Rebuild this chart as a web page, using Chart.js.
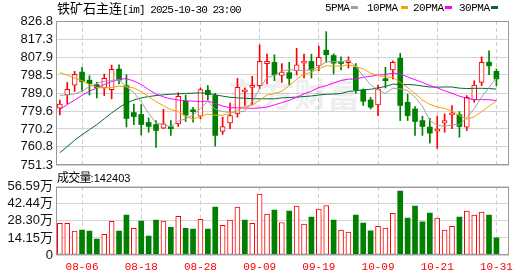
<!DOCTYPE html>
<html>
<head>
<meta charset="utf-8">
<script src="https://cdn.jsdelivr.net/npm/chart.js@4.4.1/dist/chart.umd.min.js"></script>
<style>
body{margin:0;background:#fff;width:530px;height:276px;overflow:hidden;position:relative;}
canvas{position:absolute;left:0;}
#pc{top:0;}
#vc{top:176px;}
.t{position:absolute;white-space:nowrap;color:#000;line-height:16px;}
.cjk{font-family:"Noto Sans CJK SC",sans-serif;}
.mono{font-family:"Liberation Mono",monospace;font-size:11px;}
.sw{position:absolute;top:6px;width:7px;height:3px;}
</style>
</head>
<body>
<canvas id="pc" width="530" height="176"></canvas>
<canvas id="vc" width="530" height="100"></canvas>

<div class="t" style="left:57px;top:0;"><span class="cjk" style="font-size:13px;">铁矿石主连</span><span class="mono" style="letter-spacing:-0.95px;">[im] 2025-10-30 23:00</span></div>

<div class="t mono" style="left:325px;top:0;letter-spacing:-0.5px;">5PMA</div><div class="sw" style="left:351px;background:#a0a0a0;"></div>
<div class="t mono" style="left:367px;top:0;letter-spacing:-0.5px;">10PMA</div><div class="sw" style="left:401px;background:#f5a300;"></div>
<div class="t mono" style="left:413px;top:0;letter-spacing:-0.5px;">20PMA</div><div class="sw" style="left:445px;background:#ff00ff;"></div>
<div class="t mono" style="left:459px;top:0;letter-spacing:-0.5px;">30PMA</div><div class="sw" style="left:491px;background:#006a30;"></div>

<div class="t" style="left:57px;top:169px;"><span class="cjk" style="font-size:12px;letter-spacing:-0.8px;">成交量</span><span style="font-family:'Liberation Sans',sans-serif;font-size:11px;">:142403</span></div>

<script>
// 日期 (交易日)
var dates = ['08-01','08-04','08-05','08-06','08-07','08-08','08-11','08-12','08-13','08-14',
             '08-15','08-18','08-19','08-20','08-21','08-22','08-25','08-26','08-27','08-28',
             '08-29','09-01','09-02','09-03','09-04','09-05','09-08','09-09','09-10','09-11',
             '09-12','09-15','09-16','09-17','09-18','09-19','09-22','09-23','09-24','09-25',
             '09-26','09-29','09-30','10-09','10-10','10-13','10-14','10-15','10-16','10-17',
             '10-20','10-21','10-22','10-23','10-24','10-27','10-28','10-29','10-30','10-31'];

var openP  = [781.1,788.0,793.1,800.0,795.8,793.4,791.7,790.8,801.6,792.9,
              778.8,777.8,773.6,772.5,770.6,771.2,772.9,784.7,779.7,776.9,
              790.5,787.7,768.9,773.4,778.1,789.6,792.0,792.9,804.4,805.1,
              798.3,799.7,800.7,804.7,805.6,803.3,811.5,808.7,805.1,804.9,
              802.5,790.6,785.4,782.8,795.8,801.2,807.3,784.2,780.7,774.6,
              771.2,769.1,773.2,777.6,777.6,771.2,785.6,794.6,805.2,800.4];
var highP  = [785.4,794.6,800.4,802.5,798.1,794.6,799.0,803.7,803.8,798.6,
              783.3,783.0,776.0,774.6,780.5,774.6,789.2,788.0,781.6,791.7,
              792.9,788.9,776.4,783.7,796.7,791.7,797.8,814.3,809.4,809.1,
              804.5,805.1,812.5,809.4,809.4,813.6,821.2,809.6,808.0,808.0,
              804.5,791.2,786.8,793.2,802.5,805.9,809.8,788.5,781.9,776.9,
              775.8,776.8,778.1,782.5,779.3,787.7,795.5,808.0,811.1,801.6];
var lowP   = [777.6,783.3,789.9,789.9,788.0,786.5,787.7,786.0,793.8,771.2,
              772.5,767.0,768.5,760.5,770.3,766.8,771.5,774.1,773.8,775.5,
              785.4,761.2,767.3,770.3,776.4,782.5,783.0,791.2,793.8,795.5,
              794.6,793.4,798.5,796.9,796.9,800.7,805.1,799.0,801.1,802.1,
              788.9,782.5,780.7,777.2,791.7,796.4,774.6,774.6,766.8,766.8,
              762.8,760.0,768.5,770.3,765.9,769.4,784.2,792.9,798.6,792.9];
var closeP = [783.3,791.0,798.8,795.0,793.9,791.7,796.7,801.4,795.8,775.7,
              776.7,772.5,771.5,769.4,772.9,770.3,787.3,777.4,779.2,790.8,
              788.2,766.8,771.5,777.2,792.0,789.9,792.5,805.6,805.6,798.6,
              800.0,796.7,803.8,805.1,801.1,807.7,809.1,804.7,804.5,805.4,
              790.8,784.7,781.6,791.2,795.5,805.1,782.5,777.2,774.1,771.5,
              768.0,769.8,774.6,778.1,771.5,786.8,793.2,805.1,803.3,796.4];

var ma5  = [787.8,788.0,788.6,790.0,792.4,794.1,795.2,795.7,795.9,792.3,
            789.3,784.4,778.4,773.2,772.6,771.3,774.3,775.5,777.4,781.0,
            784.6,780.5,779.3,778.9,779.1,779.5,784.6,791.4,797.1,798.4,
            800.5,801.3,800.9,800.8,801.3,802.9,805.4,805.5,805.4,806.3,
            802.9,798.0,793.4,790.7,788.8,791.6,791.2,790.3,786.9,782.1,
            774.7,772.1,771.6,772.4,772.4,776.2,780.8,786.9,792.0,797.0];
var ma10 = [799.8,798.4,796.9,795.5,793.5,792.0,791.7,792.0,792.6,792.3,
            791.7,789.8,787.1,784.5,782.4,780.3,779.4,777.0,775.3,776.8,
            778.0,777.4,777.4,778.2,780.1,782.0,782.6,785.4,788.0,788.8,
            790.0,793.0,796.2,799.0,799.9,801.7,803.3,803.2,803.1,803.8,
            802.9,801.7,799.5,798.1,797.5,797.3,794.6,791.9,788.8,785.4,
            783.1,781.7,781.0,779.6,777.2,775.4,776.5,779.3,782.2,784.7];
var ma20 = [780.4,783.0,785.3,787.8,790.0,791.6,793.5,795.0,796.2,796.6,
            795.3,793.5,790.8,788.5,787.0,786.0,785.4,785.0,784.8,784.6,
            784.8,783.6,782.2,781.3,781.3,781.2,781.0,781.2,781.7,782.8,
            784.0,785.2,786.8,788.6,790.0,791.9,792.9,794.3,795.6,796.3,
            796.4,797.3,797.8,798.5,798.7,799.5,799.0,797.5,796.0,794.6,
            793.0,791.7,790.2,788.9,787.4,786.3,785.5,785.6,785.5,785.1];
var ma30 = [757.7,761.0,764.3,767.2,769.8,772.5,775.5,778.6,781.4,783.8,
            785.4,786.5,787.2,787.7,788.1,788.4,788.6,788.8,789.0,789.1,
            788.9,788.1,787.4,786.8,786.5,786.3,786.1,786.0,786.0,786.0,
            786.5,786.7,786.9,787.2,787.5,788.0,788.4,788.5,788.8,789.8,
            790.3,790.7,791.0,791.7,792.5,793.7,793.5,793.5,793.3,792.7,
            792.2,792.1,792.2,792.2,791.6,791.4,791.5,791.5,791.4,791.1];

var volume = [262000,262000,199000,207000,199000,132000,171000,279000,199000,331000,
              221000,282000,157000,290000,282000,229000,320000,221000,215000,295000,
              215000,397000,246000,290000,397000,290000,262000,505000,339000,373000,
              270000,364000,406000,257000,315000,381000,411000,290000,207000,190000,
              331000,265000,201000,237000,224000,345000,530000,306000,406000,276000,
              348000,306000,207000,237000,315000,364000,331000,356000,331000,142403];
// 1 = 红 (涨), 0 = 绿 (跌)
var volUp = [1,1,1,0,0,0,1,1,0,0,1,0,0,0,1,0,1,0,0,1,0,0,1,1,1,0,1,1,
             1,0,1,0,1,1,0,1,1,0,1,1,0,0,0,1,1,1,0,0,0,0,0,1,1,1,0,1,1,1,0,0];

var priceTicks = [751.3, 760.8, 770.2, 779.6, 789.0, 798.5, 807.9, 817.3, 826.8];
var volTicks = [0, 141500, 283000, 424400, 565900];
var dateTickIdx = [3, 11, 19, 27, 35, 43, 51, 59];

var RED = '#ff0000', GREEN = '#008000';
var xMin = -0.52, xMax = 60.7;
var tickFont = {family: "'Liberation Sans', 'Noto Sans CJK SC', sans-serif", size: 13};

function candleUp(i) { return closeP[i] >= openP[i]; }

var framePlugin = {
    id: 'frame',
    afterDatasetsDraw: function (chart) {
        var a = chart.chartArea, c = chart.ctx;
        c.save();
        c.strokeStyle = '#999';
        c.lineWidth = 1;
        c.strokeRect(Math.round(a.left) + 0.5, Math.round(a.top) + 0.5,
            Math.round(a.right - a.left) - 1, Math.round(a.bottom - a.top) - 1);
        c.restore();
    }
};

var watermark = {
    id: 'watermark',
    beforeDatasetsDraw: function (chart) {
        var c = chart.ctx;
        c.save();
        c.font = "bold 33px 'Noto Sans CJK SC'";
        c.fillStyle = 'rgba(120,120,140,0.13)';
        c.textBaseline = 'middle';
        c.fillText('东方财富', 228, 94);
        c.restore();
    }
};

function xScale(showLabels) {
    return {
        type: 'linear', min: xMin, max: xMax, bounds: 'data', offset: false,
        grid: {offset: false, color: '#cccccc', drawTicks: false},
        border: {display: false, dash: [4, 3]},
        ticks: {
            display: showLabels, autoSkip: false, maxRotation: 0, padding: 5,
            color: RED, font: {family: "'Liberation Mono', monospace", size: 11},
            callback: function (v) { return dates[v]; }
        },
        afterBuildTicks: function (s) { s.ticks = dateTickIdx.map(function (v) { return {value: v}; }); },
        afterFit: function (s) { s.height = showLabels ? 21 : 0; }
    };
}

// K线图
new Chart(document.getElementById('pc'), {
    type: 'bar',
    data: {
        datasets: [{
            label: 'wick',
            data: dates.map(function (d, i) { return {x: i, y: [lowP[i], highP[i]]}; }),
            backgroundColor: dates.map(function (d, i) { return candleUp(i) ? RED : GREEN; }),
            barThickness: 1, grouped: false, borderWidth: 0, order: 10
        }, {
            label: 'body',
            data: dates.map(function (d, i) { return {x: i, y: [openP[i], closeP[i]]}; }),
            backgroundColor: dates.map(function (d, i) { return candleUp(i) ? '#ffffff' : GREEN; }),
            borderColor: dates.map(function (d, i) { return candleUp(i) ? RED : GREEN; }),
            borderWidth: dates.map(function (d, i) { return candleUp(i) ? 1 : 0; }),
            borderSkipped: false, barThickness: 5, minBarLength: 2, grouped: false, order: 9
        }, {
            type: 'line', label: '30PMA', data: ma30.map(function (v, i) { return {x: i, y: v}; }),
            borderColor: '#006a30', borderWidth: 1, pointRadius: 0, order: 4
        }, {
            type: 'line', label: '20PMA', data: ma20.map(function (v, i) { return {x: i, y: v}; }),
            borderColor: '#ff00ff', borderWidth: 1, pointRadius: 0, order: 3
        }, {
            type: 'line', label: '10PMA', data: ma10.map(function (v, i) { return {x: i, y: v}; }),
            borderColor: '#f5a300', borderWidth: 1, pointRadius: 0, order: 2
        }, {
            type: 'line', label: '5PMA', data: ma5.map(function (v, i) { return {x: i, y: v}; }),
            borderColor: '#a0a0a0', borderWidth: 1, pointRadius: 0, order: 1
        }]
    },
    options: {
        responsive: false, animation: false, events: [],
        layout: {padding: {top: 21, right: 21, bottom: 11, left: 0}},
        plugins: {legend: {display: false}, tooltip: {enabled: false}},
        scales: {
            x: xScale(false),
            y: {
                min: 751.3, max: 826.8, bounds: 'data',
                grid: {color: '#d4d4d4', drawTicks: false},
                border: {display: false},
                ticks: {autoSkip: false, padding: 3, color: '#111', font: tickFont,
                    callback: function (v) { return v.toFixed(1); }},
                afterBuildTicks: function (s) { s.ticks = priceTicks.map(function (v) { return {value: v}; }); },
                afterFit: function (s) { s.width = 56; }
            }
        }
    },
    plugins: [watermark, framePlugin]
});

// 成交量
new Chart(document.getElementById('vc'), {
    type: 'bar',
    data: {
        datasets: [{
            label: '成交量',
            data: volume.map(function (v, i) { return {x: i, y: v}; }),
            backgroundColor: volUp.map(function (u) { return u ? '#ffffff' : GREEN; }),
            borderColor: volUp.map(function (u) { return u ? RED : GREEN; }),
            borderWidth: volUp.map(function (u) { return u ? 1 : 0; }),
            borderSkipped: false, barThickness: 5, grouped: false
        }]
    },
    options: {
        responsive: false, animation: false, events: [],
        layout: {padding: {top: 10, right: 21, bottom: 0, left: 0}},
        plugins: {legend: {display: false}, tooltip: {enabled: false}},
        scales: {
            x: xScale(true),
            y: {
                min: 0, max: 565900, bounds: 'data',
                grid: {color: '#d4d4d4', drawTicks: false},
                border: {display: false},
                ticks: {autoSkip: false, padding: 3, color: '#111', font: tickFont,
                    callback: function (v) { return v === 0 ? '0' : (v / 10000).toFixed(2) + '万'; }},
                afterBuildTicks: function (s) { s.ticks = volTicks.map(function (v) { return {value: v}; }); },
                afterFit: function (s) { s.width = 56; }
            }
        }
    },
    plugins: [framePlugin]
});
</script>
</body>
</html>
